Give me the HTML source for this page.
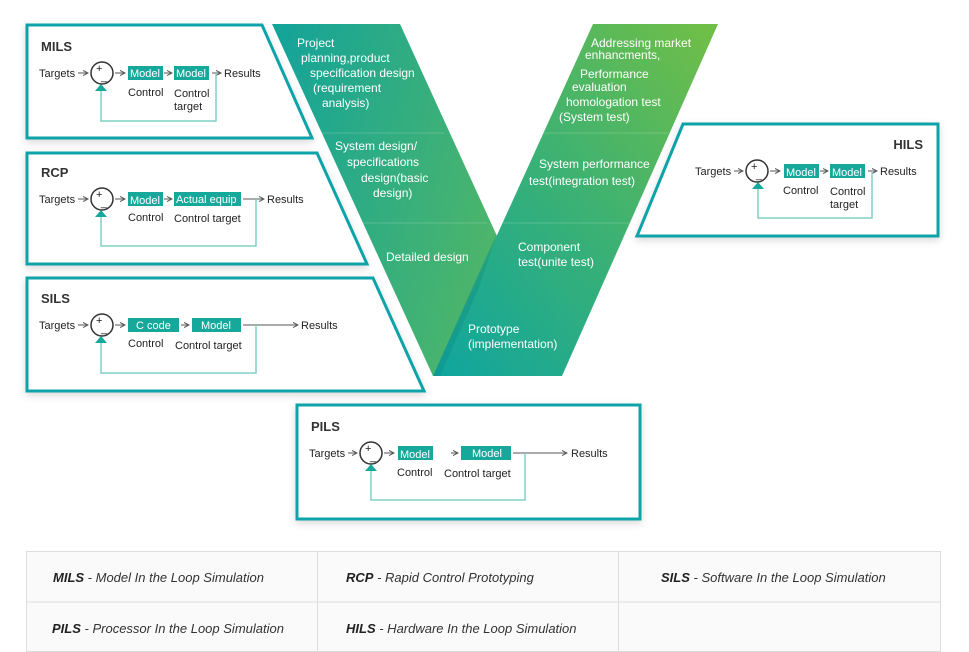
<!DOCTYPE html>
<html><head><meta charset="utf-8"><style>
html,body{margin:0;padding:0;background:#fff;}
svg{display:block;font-family:"Liberation Sans",Arial,sans-serif;}
.t{font-size:11px;fill:#222;}
.w{font-size:11px;fill:#fff;}
.v{font-size:12px;fill:#fff;}
.h{font-size:13px;font-weight:bold;fill:#333;}
.lg{font-size:13px;font-style:italic;fill:#333;}
.lb{font-size:13px;font-style:italic;font-weight:bold;fill:#222;}
</style></head><body>
<svg width="969" height="652" viewBox="0 0 969 652">
<defs>
<linearGradient id="gl" x1="0" y1="0" x2="1" y2="0.3">
<stop offset="0" stop-color="#12a39b"/><stop offset="1" stop-color="#55b863"/></linearGradient>
<linearGradient id="gr" x1="0" y1="1" x2="1" y2="0">
<stop offset="0" stop-color="#0fa59f"/><stop offset="0.5" stop-color="#3bb174"/><stop offset="1" stop-color="#72bf45"/></linearGradient>
<filter id="sh" x="-10%" y="-10%" width="120%" height="130%"><feDropShadow dx="0" dy="3" stdDeviation="4" flood-color="#000" flood-opacity="0.15"/></filter>
<marker id="ar" markerWidth="6" markerHeight="6" refX="5" refY="3" orient="auto"><path d="M0,0.5 L5,3 L0,5.5" fill="none" stroke="#555" stroke-width="1"/></marker>
</defs>

<!-- V shape -->
<polygon points="272,24 400,24 561,376 433,376" fill="url(#gl)"/>
<polygon points="593,24 718,24 562,376 433,376" fill="url(#gr)"/>
<polygon points="497,233 471,290 433,376 440,376 478,290" fill="#0a7d77" opacity="0.25"/>
<g stroke="#fff" stroke-opacity="0.18" stroke-width="1">
<line x1="322" y1="133" x2="444" y2="133"/><line x1="544" y1="133" x2="668" y2="133"/>
<line x1="362" y1="223" x2="487" y2="223"/><line x1="503" y1="223" x2="629" y2="223"/>
</g>
<g class="v">
<text x="297" y="47">Project</text><text x="301" y="62">planning,product</text><text x="310" y="77">specification design</text><text x="313" y="92">(requirement</text><text x="322" y="107">analysis)</text>
<text x="335" y="150">System design/</text><text x="347" y="166">specifications</text><text x="361" y="182">design(basic</text><text x="373" y="197">design)</text>
<text x="386" y="261">Detailed design</text>
<text x="591" y="47">Addressing market</text><text x="585" y="59">enhancments,</text><text x="580" y="78">Performance</text><text x="572" y="91">evaluation</text><text x="566" y="106">homologation test</text><text x="559" y="121">(System test)</text>
<text x="539" y="168">System performance</text><text x="529" y="185">test(integration test)</text>
<text x="518" y="251">Component</text><text x="518" y="266">test(unite test)</text>
<text x="468" y="333">Prototype</text><text x="468" y="348">(implementation)</text>
</g>

<!-- boxes -->
<g stroke="#0aa3a8" stroke-width="3" fill="#fff" filter="url(#sh)">
<polygon points="27,25 262,25 312,138 27,138"/>
<polygon points="27,153 317,153 367,264 27,264"/>
<polygon points="27,278 373,278 424,391 27,391"/>
<rect x="297" y="405" width="343" height="114"/>
<polygon points="683,124 938,124 938,236 637,236"/>
</g>

<g class="h"><text x="41" y="51">MILS</text><text x="41" y="177">RCP</text><text x="41" y="303">SILS</text><text x="311" y="431">PILS</text><text x="923" y="149" text-anchor="end">HILS</text></g>

<!-- MILS -->
<g>
<text class="t" x="39" y="77">Targets</text>
<line x1="78" y1="73" x2="88" y2="73" stroke="#555" marker-end="url(#ar)"/>
<circle cx="102" cy="73" r="11" fill="none" stroke="#333" stroke-width="1.5"/>
<text class="t" x="96" y="72">+</text><text class="t" x="101" y="80">_</text>
<line x1="115" y1="73" x2="125" y2="73" stroke="#555" marker-end="url(#ar)"/>
<rect x="128" y="66" width="35" height="14" fill="#16a89a"/><text class="w" x="130" y="77">Model</text>
<line x1="164" y1="73" x2="172" y2="73" stroke="#555" marker-end="url(#ar)"/>
<rect x="174" y="66" width="35" height="14" fill="#16a89a"/><text class="w" x="176" y="77">Model</text>
<line x1="212" y1="73" x2="221" y2="73" stroke="#555" marker-end="url(#ar)"/>
<text class="t" x="224" y="77">Results</text>
<text class="t" x="128" y="96">Control</text><text class="t" x="174" y="97">Control</text><text class="t" x="174" y="110">target</text>
<polyline points="216,73 216,121 101,121 101,91" fill="none" stroke="#7fd0c6" stroke-width="1.5"/>
<polygon points="95,91 107,91 101,84" fill="#16a89a"/>
</g>
<!-- RCP -->
<g>
<text class="t" x="39" y="203">Targets</text>
<line x1="78" y1="199" x2="88" y2="199" stroke="#555" marker-end="url(#ar)"/>
<circle cx="102" cy="199" r="11" fill="none" stroke="#333" stroke-width="1.5"/>
<text class="t" x="96" y="198">+</text><text class="t" x="101" y="206">_</text>
<line x1="115" y1="199" x2="125" y2="199" stroke="#555" marker-end="url(#ar)"/>
<rect x="128" y="192" width="35" height="14" fill="#16a89a"/><text class="w" x="130" y="204">Model</text>
<line x1="164" y1="199" x2="172" y2="199" stroke="#555" marker-end="url(#ar)"/>
<rect x="174" y="192" width="67" height="14" fill="#16a89a"/><text class="w" x="176" y="203">Actual equip</text>
<line x1="243" y1="199" x2="264" y2="199" stroke="#555" marker-end="url(#ar)"/>
<text class="t" x="267" y="203">Results</text>
<text class="t" x="128" y="221">Control</text><text class="t" x="174" y="222">Control target</text>
<polyline points="256,199 256,246 101,246 101,217" fill="none" stroke="#7fd0c6" stroke-width="1.5"/>
<polygon points="95,217 107,217 101,210" fill="#16a89a"/>
</g>
<!-- SILS -->
<g>
<text class="t" x="39" y="329">Targets</text>
<line x1="78" y1="325" x2="88" y2="325" stroke="#555" marker-end="url(#ar)"/>
<circle cx="102" cy="325" r="11" fill="none" stroke="#333" stroke-width="1.5"/>
<text class="t" x="96" y="324">+</text><text class="t" x="101" y="332">_</text>
<line x1="115" y1="325" x2="125" y2="325" stroke="#555" marker-end="url(#ar)"/>
<rect x="128" y="318" width="51" height="14" fill="#16a89a"/><text class="w" x="136" y="329">C code</text>
<line x1="181" y1="325" x2="189" y2="325" stroke="#555" marker-end="url(#ar)"/>
<rect x="192" y="318" width="49" height="14" fill="#16a89a"/><text class="w" x="201" y="329">Model</text>
<line x1="243" y1="325" x2="298" y2="325" stroke="#555" marker-end="url(#ar)"/>
<text class="t" x="301" y="329">Results</text>
<text class="t" x="128" y="347">Control</text><text class="t" x="175" y="349">Control target</text>
<polyline points="256,325 256,373 101,373 101,343" fill="none" stroke="#7fd0c6" stroke-width="1.5"/>
<polygon points="95,343 107,343 101,336" fill="#16a89a"/>
</g>
<!-- PILS -->
<g>
<text class="t" x="309" y="457">Targets</text>
<line x1="348" y1="453" x2="357" y2="453" stroke="#555" marker-end="url(#ar)"/>
<circle cx="371" cy="453" r="11" fill="none" stroke="#333" stroke-width="1.5"/>
<text class="t" x="365" y="452">+</text><text class="t" x="370" y="460">_</text>
<line x1="384" y1="453" x2="394" y2="453" stroke="#555" marker-end="url(#ar)"/>
<rect x="398" y="446" width="35" height="14" fill="#16a89a"/><text class="w" x="400" y="458">Model</text>
<line x1="451" y1="453" x2="458" y2="453" stroke="#555" marker-end="url(#ar)"/>
<rect x="461" y="446" width="50" height="14" fill="#16a89a"/><text class="w" x="472" y="457">Model</text>
<line x1="513" y1="453" x2="567" y2="453" stroke="#555" marker-end="url(#ar)"/>
<text class="t" x="571" y="457">Results</text>
<text class="t" x="397" y="476">Control</text><text class="t" x="444" y="477">Control target</text>
<polyline points="525,453 525,500 371,500 371,471" fill="none" stroke="#7fd0c6" stroke-width="1.5"/>
<polygon points="365,471 377,471 371,464" fill="#16a89a"/>
</g>
<!-- HILS -->
<g>
<text class="t" x="695" y="175">Targets</text>
<line x1="734" y1="171" x2="743" y2="171" stroke="#555" marker-end="url(#ar)"/>
<circle cx="757" cy="171" r="11" fill="none" stroke="#333" stroke-width="1.5"/>
<text class="t" x="751" y="170">+</text><text class="t" x="756" y="178">_</text>
<line x1="770" y1="171" x2="780" y2="171" stroke="#555" marker-end="url(#ar)"/>
<rect x="784" y="164" width="35" height="14" fill="#16a89a"/><text class="w" x="786" y="176">Model</text>
<line x1="820" y1="171" x2="828" y2="171" stroke="#555" marker-end="url(#ar)"/>
<rect x="830" y="164" width="35" height="14" fill="#16a89a"/><text class="w" x="832" y="176">Model</text>
<line x1="868" y1="171" x2="877" y2="171" stroke="#555" marker-end="url(#ar)"/>
<text class="t" x="880" y="175">Results</text>
<text class="t" x="783" y="194">Control</text><text class="t" x="830" y="195">Control</text><text class="t" x="830" y="208">target</text>
<polyline points="872,171 872,218 758,218 758,189" fill="none" stroke="#7fd0c6" stroke-width="1.5"/>
<polygon points="752,189 764,189 758,182" fill="#16a89a"/>
</g>

<!-- legend -->
<rect x="26.5" y="551.5" width="914" height="100" fill="#fafafa" stroke="#ddd"/>
<line x1="26" y1="602" x2="941" y2="602" stroke="#ddd"/>
<line x1="317.5" y1="551" x2="317.5" y2="652" stroke="#ddd"/>
<line x1="618.5" y1="551" x2="618.5" y2="652" stroke="#ddd"/>
<text x="53" y="582"><tspan class="lb">MILS</tspan><tspan class="lg"> - Model In the Loop Simulation</tspan></text>
<text x="346" y="582"><tspan class="lb">RCP</tspan><tspan class="lg">  - Rapid Control Prototyping</tspan></text>
<text x="661" y="582"><tspan class="lb">SILS</tspan><tspan class="lg"> - Software In the Loop Simulation</tspan></text>
<text x="52" y="633"><tspan class="lb">PILS</tspan><tspan class="lg">  - Processor In the Loop Simulation</tspan></text>
<text x="346" y="633"><tspan class="lb">HILS</tspan><tspan class="lg"> - Hardware In the Loop Simulation</tspan></text>
</svg>
</body></html>
